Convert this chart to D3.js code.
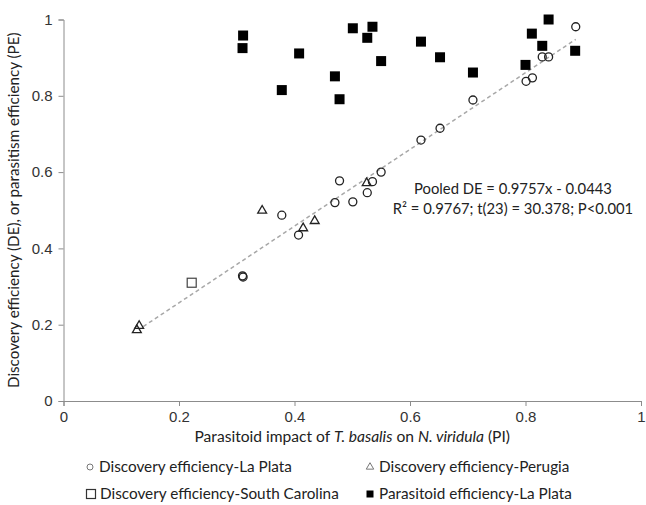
<!DOCTYPE html>
<html>
<head>
<meta charset="utf-8">
<script src="https://cdn.jsdelivr.net/npm/d3@7"></script>
<style>
  body { margin: 0; background: #fff; }
  svg { font-family: Lato, "Open Sans", sans-serif; }
  .axis path, .axis line { stroke: #8c8c8c; }
  .axis text { fill: #333; font-size: 15px; }
</style>
</head>
<body>
<div id="chart"></div>
<script>
// Discovery efficiency, La Plata  [PI, DE]
const deLaPlata = [
  [0.887, 0.981], [0.829, 0.902], [0.840, 0.902], [0.801, 0.838], [0.812, 0.847],
  [0.709, 0.789], [0.652, 0.715], [0.619, 0.684], [0.550, 0.600], [0.535, 0.575],
  [0.526, 0.546], [0.478, 0.577], [0.470, 0.520], [0.501, 0.522], [0.378, 0.487],
  [0.407, 0.435], [0.310, 0.328], [0.311, 0.325]
];
// Discovery efficiency, Perugia
const dePerugia = [
  [0.344, 0.499], [0.415, 0.453], [0.435, 0.472], [0.525, 0.571], [0.131, 0.197], [0.127, 0.186]
];
// Discovery efficiency, South Carolina
const deSouthCarolina = [[0.222, 0.310]];
// Parasitoid efficiency, La Plata  [PI, PE]
const peLaPlata = [
  [0.311, 0.958], [0.310, 0.925], [0.378, 0.815], [0.408, 0.911], [0.470, 0.851],
  [0.478, 0.791], [0.501, 0.977], [0.526, 0.952], [0.535, 0.981], [0.550, 0.891],
  [0.619, 0.942], [0.652, 0.901], [0.709, 0.861], [0.800, 0.881], [0.811, 0.963],
  [0.829, 0.931], [0.840, 1.000], [0.886, 0.918]
];
// pooled trend line as drawn (end points)
const trendX = [0.138, 0.887];
const trendY = [0.195, 0.948];

const xTicks = [0, 0.2, 0.4, 0.6, 0.8, 1];
const yTicks = [0, 0.2, 0.4, 0.6, 0.8, 1];
const legendLabels = [
  "Discovery efficiency-La Plata", "Discovery efficiency-Perugia",
  "Discovery efficiency-South Carolina", "Parasitoid efficiency-La Plata"
];
const annotation = ["Pooled DE = 0.9757x - 0.0443", "R² = 0.9767; t(23) = 30.378; P<0.001"];

const W = 646, H = 505;
const margin = {top: 19.5, left: 63.5, right: 5, bottom: 104};

const x = d3.scaleLinear().domain([0, 1]).range([margin.left, W - margin.right]);
const y = d3.scaleLinear().domain([0, 1]).range([H - margin.bottom, margin.top]);

const svg = d3.select("#chart").append("svg").attr("width", W).attr("height", H);

// axes
svg.append("g").attr("class", "axis")
  .attr("transform", "translate(0," + y(0) + ")")
  .call(d3.axisBottom(x).tickValues(xTicks).tickSizeOuter(0).tickSize(5).tickPadding(5)
    .tickFormat(d3.format("~g")));
svg.append("g").attr("class", "axis")
  .attr("transform", "translate(" + x(0) + ",0)")
  .call(d3.axisLeft(y).tickValues(yTicks).tickSizeOuter(0).tickSize(5).tickPadding(6)
    .tickFormat(d3.format("~g")));

// trend line
svg.append("line")
  .attr("x1", x(trendX[0])).attr("y1", y(trendY[0]))
  .attr("x2", x(trendX[1])).attr("y2", y(trendY[1]))
  .attr("stroke", "#a8a8a8").attr("stroke-width", 1.5).attr("stroke-dasharray", "4,3");

// markers
const tri = d3.symbol().type(d3.symbolTriangle).size(34);

svg.append("g").selectAll("circle")
  .data(deLaPlata).enter().append("circle")
  .attr("cx", d => x(d[0])).attr("cy", d => y(d[1])).attr("r", 4)
  .attr("fill", "none").attr("stroke", "#222").attr("stroke-width", 1.3);

svg.append("g").selectAll("path")
  .data(dePerugia).enter().append("path")
  .attr("d", tri)
  .attr("transform", d => "translate(" + x(d[0]) + "," + y(d[1]) + ")")
  .attr("fill", "none").attr("stroke", "#222").attr("stroke-width", 1.3);

svg.append("g").selectAll("rect")
  .data(deSouthCarolina).enter().append("rect")
  .attr("x", d => x(d[0]) - 4.5).attr("y", d => y(d[1]) - 4.5)
  .attr("width", 9).attr("height", 9)
  .attr("fill", "none").attr("stroke", "#444").attr("stroke-width", 1.2);

svg.append("g").selectAll("rect")
  .data(peLaPlata).enter().append("rect")
  .attr("x", d => x(d[0]) - 5).attr("y", d => y(d[1]) - 5)
  .attr("width", 10).attr("height", 10)
  .attr("fill", "#000");

// regression annotation
svg.append("text")
  .attr("x", 513).attr("y", 194)
  .attr("text-anchor", "middle").attr("font-size", 14.8).attr("fill", "#222")
  .selectAll("tspan").data(annotation).enter().append("tspan")
  .attr("x", 513).attr("dy", (d, i) => i ? 20 : 0)
  .text(d => d);

// axis titles
const xt = svg.append("text")
  .attr("x", (x(0) + x(1)) / 2).attr("y", 442)
  .attr("text-anchor", "middle").attr("font-size", 15.6).attr("fill", "#222");
xt.append("tspan").text("Parasitoid impact of ");
xt.append("tspan").attr("font-style", "italic").text("T. basalis");
xt.append("tspan").text(" on ");
xt.append("tspan").attr("font-style", "italic").text("N. viridula");
xt.append("tspan").text(" (PI)");

svg.append("text")
  .attr("transform", "translate(19," + ((y(0) + y(1)) / 2) + ") rotate(-90)")
  .attr("text-anchor", "middle").attr("font-size", 15.2).attr("fill", "#222")
  .text("Discovery efficiency (DE), or parasitism efficiency (PE)");

// legend
const legend = svg.append("g").attr("font-size", 15.3).attr("fill", "#222");
const legPos = [[90, 467], [370, 467], [91, 494], [370, 494]];
legend.selectAll("text").data(legendLabels).enter().append("text")
  .attr("x", (d, i) => legPos[i][0] + 9)
  .attr("y", (d, i) => legPos[i][1])
  .attr("dy", "0.35em")
  .text(d => d);

legend.append("circle").attr("cx", legPos[0][0]).attr("cy", legPos[0][1]).attr("r", 3)
  .attr("fill", "none").attr("stroke", "#777").attr("stroke-width", 1);
legend.append("path").attr("d", d3.symbol().type(d3.symbolTriangle).size(24))
  .attr("transform", "translate(" + legPos[1][0] + "," + legPos[1][1] + ")")
  .attr("fill", "none").attr("stroke", "#777").attr("stroke-width", 1);
legend.append("rect").attr("x", legPos[2][0] - 4.5).attr("y", legPos[2][1] - 4.5)
  .attr("width", 9).attr("height", 9)
  .attr("fill", "none").attr("stroke", "#333").attr("stroke-width", 1.2);
legend.append("rect").attr("x", legPos[3][0] - 3.5).attr("y", legPos[3][1] - 3.5)
  .attr("width", 7).attr("height", 7).attr("fill", "#000");
</script>
</body>
</html>
